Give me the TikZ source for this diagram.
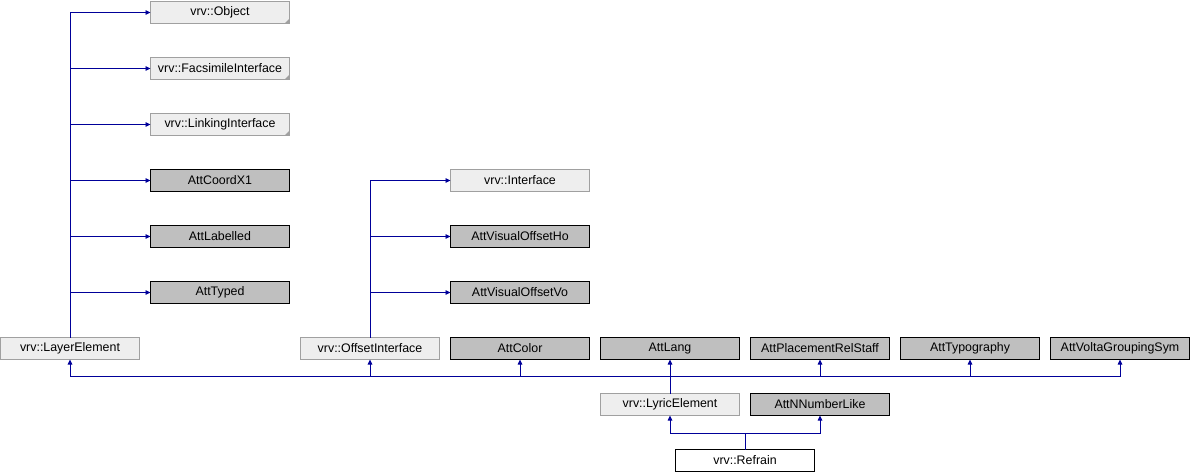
\documentclass[tikz,border=0pt]{standalone}
\usepackage{fontspec}
\setmainfont{Liberation Sans}
\usetikzlibrary{arrows.meta}
\definecolor{edgeblue}{HTML}{000099}
\definecolor{attgray}{HTML}{BFBFBF}
\definecolor{clsfill}{HTML}{EEEEEE}
\definecolor{clsdraw}{HTML}{A0A0A0}
\begin{document}
\begin{tikzpicture}[x=1pt,y=-1pt,
  box/.style={rectangle,minimum width=139pt,minimum height=22pt,inner sep=0pt,outer sep=0pt,font=\fontsize{12.4}{14}\selectfont,line width=0.9pt},
  att/.style={box,fill=attgray,draw=black},
  cls/.style={box,fill=clsfill,draw=clsdraw},
  main/.style={box,fill=white,draw=black},
  edge/.style={draw=edgeblue,line width=0.9pt,-{Triangle[length=5pt,width=4.5pt]}},
  line/.style={draw=edgeblue,line width=0.9pt}]
\useasboundingbox (0,0) rectangle (1190,472);
% left column
\node[cls] (object) at (220,12.5) {vrv::Object};
\node[cls] (facs) at (220,68.5) {vrv::FacsimileInterface};
\node[cls] (link) at (220,124.5) {vrv::LinkingInterface};
\node[att] (coord) at (220,180.5) {AttCoordX1};
\node[att] (labelled) at (220,236.5) {AttLabelled};
\node[att] (typed) at (220,292.5) {AttTyped};
\node[cls] (layer) at (70,348.5) {vrv::LayerElement};
% offset column
\node[cls] (iface) at (520,180.5) {vrv::Interface};
\node[att] (voho) at (520,236.5) {AttVisualOffsetHo};
\node[att] (vovo) at (520,292.5) {AttVisualOffsetVo};
\node[cls] (offset) at (370,348.5) {vrv::OffsetInterface};
% row of attributes
\node[att] (color) at (520,348.5) {AttColor};
\node[att] (lang) at (670,348.5) {AttLang};
\node[att] (place) at (820,348.5) {AttPlacementRelStaff};
\node[att] (typo) at (970,348.5) {AttTypography};
\node[att] (volta) at (1120,348.5) {AttVoltaGroupingSym};
% lower rows
\node[cls] (lyric) at (670,404.5) {vrv::LyricElement};
\node[att] (nnum) at (820,404.5) {AttNNumberLike};
\node[main] (refrain) at (745,460.5) {vrv::Refrain};
% folded corners
\foreach \n in {object,facs,link}{
  \fill[clsdraw] (\n.south east) -- ++(-5,0) -- ++(5,-5) -- cycle;
}
% edges from LayerElement
\foreach \t in {object,facs,link,coord,labelled,typed}{
  \draw[edge] (layer.north) |- (\t.west);
}
% edges from OffsetInterface
\foreach \t in {iface,voho,vovo}{
  \draw[edge] (offset.north) |- (\t.west);
}
% edges from LyricElement
\foreach \t in {layer,offset,color,place,typo,volta}{
  \draw[edge] (lyric.north) -- ++(0,-17) -| (\t.south);
}
\draw[edge] (lyric.north) -- (lang.south);
% edges from Refrain
\draw[edge] (refrain.north) -- ++(0,-16) -| (lyric.south);
\draw[edge] (refrain.north) -- ++(0,-16) -| (nnum.south);
\end{tikzpicture}
\end{document}
